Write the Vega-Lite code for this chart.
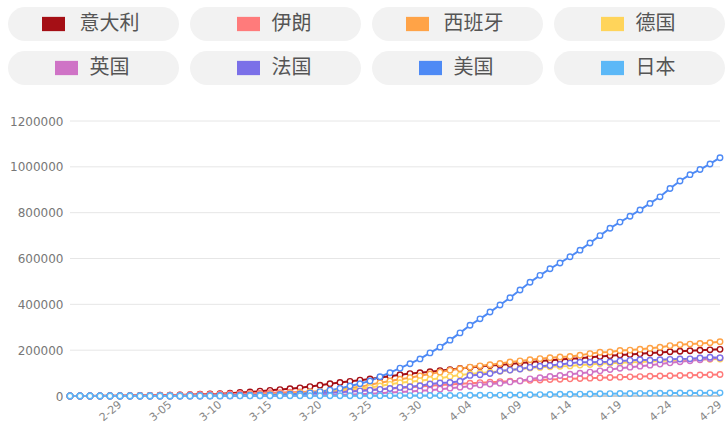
{
"$schema": "https://vega.github.io/schema/vega-lite/v6.json",
"padding": {"left": 8, "top": 7, "right": 2, "bottom": 0},
"spacing": 30,
"config": {"view": {"stroke": null}, "font": "DejaVu Sans", "background": "white", "header": {"labels": false, "labelFontSize": 0, "labelPadding": 0, "title": null}},
"datasets": {
"series": [{"name":"意大利"},{"name":"伊朗"},{"name":"西班牙"},{"name":"德国"},{"name":"英国"},{"name":"法国"},{"name":"美国"},{"name":"日本"}],
"grid": [{"g":0},{"g":200000},{"g":400000},{"g":600000},{"g":800000},{"g":1000000},{"g":1200000}],
"cases": [
{"c":"意大利","d":"2020-02-24","v":229},{"c":"意大利","d":"2020-02-25","v":322},{"c":"意大利","d":"2020-02-26","v":453},{"c":"意大利","d":"2020-02-27","v":655},{"c":"意大利","d":"2020-02-28","v":888},{"c":"意大利","d":"2020-02-29","v":1128},
{"c":"意大利","d":"2020-03-01","v":1694},{"c":"意大利","d":"2020-03-02","v":2036},{"c":"意大利","d":"2020-03-03","v":2502},{"c":"意大利","d":"2020-03-04","v":3089},{"c":"意大利","d":"2020-03-05","v":3858},{"c":"意大利","d":"2020-03-06","v":4636},{"c":"意大利","d":"2020-03-07","v":5883},{"c":"意大利","d":"2020-03-08","v":7375},{"c":"意大利","d":"2020-03-09","v":9172},{"c":"意大利","d":"2020-03-10","v":10149},{"c":"意大利","d":"2020-03-11","v":12462},{"c":"意大利","d":"2020-03-12","v":15113},{"c":"意大利","d":"2020-03-13","v":17660},{"c":"意大利","d":"2020-03-14","v":21157},{"c":"意大利","d":"2020-03-15","v":24747},{"c":"意大利","d":"2020-03-16","v":27980},{"c":"意大利","d":"2020-03-17","v":31506},{"c":"意大利","d":"2020-03-18","v":35713},{"c":"意大利","d":"2020-03-19","v":41035},{"c":"意大利","d":"2020-03-20","v":47021},{"c":"意大利","d":"2020-03-21","v":53578},{"c":"意大利","d":"2020-03-22","v":59138},{"c":"意大利","d":"2020-03-23","v":63927},{"c":"意大利","d":"2020-03-24","v":69176},{"c":"意大利","d":"2020-03-25","v":74386},{"c":"意大利","d":"2020-03-26","v":80589},{"c":"意大利","d":"2020-03-27","v":86498},{"c":"意大利","d":"2020-03-28","v":92472},{"c":"意大利","d":"2020-03-29","v":97689},{"c":"意大利","d":"2020-03-30","v":101739},{"c":"意大利","d":"2020-03-31","v":105792},
{"c":"意大利","d":"2020-04-01","v":110574},{"c":"意大利","d":"2020-04-02","v":115242},{"c":"意大利","d":"2020-04-03","v":119827},{"c":"意大利","d":"2020-04-04","v":124632},{"c":"意大利","d":"2020-04-05","v":128948},{"c":"意大利","d":"2020-04-06","v":132547},{"c":"意大利","d":"2020-04-07","v":135586},{"c":"意大利","d":"2020-04-08","v":139422},{"c":"意大利","d":"2020-04-09","v":143626},{"c":"意大利","d":"2020-04-10","v":147577},{"c":"意大利","d":"2020-04-11","v":152271},{"c":"意大利","d":"2020-04-12","v":156363},{"c":"意大利","d":"2020-04-13","v":159516},{"c":"意大利","d":"2020-04-14","v":162488},{"c":"意大利","d":"2020-04-15","v":165155},{"c":"意大利","d":"2020-04-16","v":168941},{"c":"意大利","d":"2020-04-17","v":172434},{"c":"意大利","d":"2020-04-18","v":175925},{"c":"意大利","d":"2020-04-19","v":178972},{"c":"意大利","d":"2020-04-20","v":181228},{"c":"意大利","d":"2020-04-21","v":183957},{"c":"意大利","d":"2020-04-22","v":187327},{"c":"意大利","d":"2020-04-23","v":189973},{"c":"意大利","d":"2020-04-24","v":192994},{"c":"意大利","d":"2020-04-25","v":195351},{"c":"意大利","d":"2020-04-26","v":197675},{"c":"意大利","d":"2020-04-27","v":199414},{"c":"意大利","d":"2020-04-28","v":201505},{"c":"意大利","d":"2020-04-29","v":203591},
{"c":"伊朗","d":"2020-02-24","v":61},{"c":"伊朗","d":"2020-02-25","v":95},{"c":"伊朗","d":"2020-02-26","v":139},{"c":"伊朗","d":"2020-02-27","v":245},{"c":"伊朗","d":"2020-02-28","v":388},{"c":"伊朗","d":"2020-02-29","v":593},
{"c":"伊朗","d":"2020-03-01","v":978},{"c":"伊朗","d":"2020-03-02","v":1501},{"c":"伊朗","d":"2020-03-03","v":2336},{"c":"伊朗","d":"2020-03-04","v":2922},{"c":"伊朗","d":"2020-03-05","v":3513},{"c":"伊朗","d":"2020-03-06","v":4747},{"c":"伊朗","d":"2020-03-07","v":5823},{"c":"伊朗","d":"2020-03-08","v":6566},{"c":"伊朗","d":"2020-03-09","v":7161},{"c":"伊朗","d":"2020-03-10","v":8042},{"c":"伊朗","d":"2020-03-11","v":9000},{"c":"伊朗","d":"2020-03-12","v":10075},{"c":"伊朗","d":"2020-03-13","v":11364},{"c":"伊朗","d":"2020-03-14","v":12729},{"c":"伊朗","d":"2020-03-15","v":13938},{"c":"伊朗","d":"2020-03-16","v":14991},{"c":"伊朗","d":"2020-03-17","v":16169},{"c":"伊朗","d":"2020-03-18","v":17361},{"c":"伊朗","d":"2020-03-19","v":18407},{"c":"伊朗","d":"2020-03-20","v":19644},{"c":"伊朗","d":"2020-03-21","v":20610},{"c":"伊朗","d":"2020-03-22","v":21638},{"c":"伊朗","d":"2020-03-23","v":23049},{"c":"伊朗","d":"2020-03-24","v":24811},{"c":"伊朗","d":"2020-03-25","v":27017},{"c":"伊朗","d":"2020-03-26","v":29406},{"c":"伊朗","d":"2020-03-27","v":32332},{"c":"伊朗","d":"2020-03-28","v":35408},{"c":"伊朗","d":"2020-03-29","v":38309},{"c":"伊朗","d":"2020-03-30","v":41495},{"c":"伊朗","d":"2020-03-31","v":44605},
{"c":"伊朗","d":"2020-04-01","v":47593},{"c":"伊朗","d":"2020-04-02","v":50468},{"c":"伊朗","d":"2020-04-03","v":53183},{"c":"伊朗","d":"2020-04-04","v":55743},{"c":"伊朗","d":"2020-04-05","v":58226},{"c":"伊朗","d":"2020-04-06","v":60500},{"c":"伊朗","d":"2020-04-07","v":62589},{"c":"伊朗","d":"2020-04-08","v":64586},{"c":"伊朗","d":"2020-04-09","v":66220},{"c":"伊朗","d":"2020-04-10","v":68192},{"c":"伊朗","d":"2020-04-11","v":70029},{"c":"伊朗","d":"2020-04-12","v":71686},{"c":"伊朗","d":"2020-04-13","v":73303},{"c":"伊朗","d":"2020-04-14","v":74877},{"c":"伊朗","d":"2020-04-15","v":76389},{"c":"伊朗","d":"2020-04-16","v":77995},{"c":"伊朗","d":"2020-04-17","v":79494},{"c":"伊朗","d":"2020-04-18","v":80868},{"c":"伊朗","d":"2020-04-19","v":82211},{"c":"伊朗","d":"2020-04-20","v":83505},{"c":"伊朗","d":"2020-04-21","v":84802},{"c":"伊朗","d":"2020-04-22","v":85996},{"c":"伊朗","d":"2020-04-23","v":87026},{"c":"伊朗","d":"2020-04-24","v":88194},{"c":"伊朗","d":"2020-04-25","v":89328},{"c":"伊朗","d":"2020-04-26","v":90481},{"c":"伊朗","d":"2020-04-27","v":91472},{"c":"伊朗","d":"2020-04-28","v":92584},{"c":"伊朗","d":"2020-04-29","v":93657},
{"c":"西班牙","d":"2020-02-24","v":2},{"c":"西班牙","d":"2020-02-25","v":6},{"c":"西班牙","d":"2020-02-26","v":13},{"c":"西班牙","d":"2020-02-27","v":15},{"c":"西班牙","d":"2020-02-28","v":32},{"c":"西班牙","d":"2020-02-29","v":45},
{"c":"西班牙","d":"2020-03-01","v":84},{"c":"西班牙","d":"2020-03-02","v":120},{"c":"西班牙","d":"2020-03-03","v":165},{"c":"西班牙","d":"2020-03-04","v":222},{"c":"西班牙","d":"2020-03-05","v":259},{"c":"西班牙","d":"2020-03-06","v":400},{"c":"西班牙","d":"2020-03-07","v":500},{"c":"西班牙","d":"2020-03-08","v":673},{"c":"西班牙","d":"2020-03-09","v":1073},{"c":"西班牙","d":"2020-03-10","v":1695},{"c":"西班牙","d":"2020-03-11","v":2277},{"c":"西班牙","d":"2020-03-12","v":3146},{"c":"西班牙","d":"2020-03-13","v":5232},{"c":"西班牙","d":"2020-03-14","v":6391},{"c":"西班牙","d":"2020-03-15","v":7798},{"c":"西班牙","d":"2020-03-16","v":9942},{"c":"西班牙","d":"2020-03-17","v":11748},{"c":"西班牙","d":"2020-03-18","v":13910},{"c":"西班牙","d":"2020-03-19","v":17963},{"c":"西班牙","d":"2020-03-20","v":20410},{"c":"西班牙","d":"2020-03-21","v":25374},{"c":"西班牙","d":"2020-03-22","v":28603},{"c":"西班牙","d":"2020-03-23","v":35136},{"c":"西班牙","d":"2020-03-24","v":39885},{"c":"西班牙","d":"2020-03-25","v":49515},{"c":"西班牙","d":"2020-03-26","v":57786},{"c":"西班牙","d":"2020-03-27","v":65719},{"c":"西班牙","d":"2020-03-28","v":73235},{"c":"西班牙","d":"2020-03-29","v":80110},{"c":"西班牙","d":"2020-03-30","v":87956},{"c":"西班牙","d":"2020-03-31","v":95923},
{"c":"西班牙","d":"2020-04-01","v":104118},{"c":"西班牙","d":"2020-04-02","v":112065},{"c":"西班牙","d":"2020-04-03","v":119199},{"c":"西班牙","d":"2020-04-04","v":126168},{"c":"西班牙","d":"2020-04-05","v":131646},{"c":"西班牙","d":"2020-04-06","v":136675},{"c":"西班牙","d":"2020-04-07","v":141942},{"c":"西班牙","d":"2020-04-08","v":148220},{"c":"西班牙","d":"2020-04-09","v":153222},{"c":"西班牙","d":"2020-04-10","v":158273},{"c":"西班牙","d":"2020-04-11","v":163027},{"c":"西班牙","d":"2020-04-12","v":166831},{"c":"西班牙","d":"2020-04-13","v":170099},{"c":"西班牙","d":"2020-04-14","v":172541},{"c":"西班牙","d":"2020-04-15","v":177644},{"c":"西班牙","d":"2020-04-16","v":184948},{"c":"西班牙","d":"2020-04-17","v":190839},{"c":"西班牙","d":"2020-04-18","v":191726},{"c":"西班牙","d":"2020-04-19","v":198674},{"c":"西班牙","d":"2020-04-20","v":200210},{"c":"西班牙","d":"2020-04-21","v":204178},{"c":"西班牙","d":"2020-04-22","v":208389},{"c":"西班牙","d":"2020-04-23","v":213024},{"c":"西班牙","d":"2020-04-24","v":219764},{"c":"西班牙","d":"2020-04-25","v":223759},{"c":"西班牙","d":"2020-04-26","v":226629},{"c":"西班牙","d":"2020-04-27","v":229422},{"c":"西班牙","d":"2020-04-28","v":232128},{"c":"西班牙","d":"2020-04-29","v":236899},
{"c":"德国","d":"2020-02-24","v":16},{"c":"德国","d":"2020-02-25","v":17},{"c":"德国","d":"2020-02-26","v":27},{"c":"德国","d":"2020-02-27","v":46},{"c":"德国","d":"2020-02-28","v":48},{"c":"德国","d":"2020-02-29","v":79},
{"c":"德国","d":"2020-03-01","v":130},{"c":"德国","d":"2020-03-02","v":159},{"c":"德国","d":"2020-03-03","v":196},{"c":"德国","d":"2020-03-04","v":262},{"c":"德国","d":"2020-03-05","v":482},{"c":"德国","d":"2020-03-06","v":670},{"c":"德国","d":"2020-03-07","v":799},{"c":"德国","d":"2020-03-08","v":1040},{"c":"德国","d":"2020-03-09","v":1176},{"c":"德国","d":"2020-03-10","v":1457},{"c":"德国","d":"2020-03-11","v":1908},{"c":"德国","d":"2020-03-12","v":2078},{"c":"德国","d":"2020-03-13","v":3675},{"c":"德国","d":"2020-03-14","v":4585},{"c":"德国","d":"2020-03-15","v":5795},{"c":"德国","d":"2020-03-16","v":7272},{"c":"德国","d":"2020-03-17","v":9257},{"c":"德国","d":"2020-03-18","v":12327},{"c":"德国","d":"2020-03-19","v":15320},{"c":"德国","d":"2020-03-20","v":19848},{"c":"德国","d":"2020-03-21","v":22213},{"c":"德国","d":"2020-03-22","v":24873},{"c":"德国","d":"2020-03-23","v":29056},{"c":"德国","d":"2020-03-24","v":32986},{"c":"德国","d":"2020-03-25","v":37323},{"c":"德国","d":"2020-03-26","v":43938},{"c":"德国","d":"2020-03-27","v":50871},{"c":"德国","d":"2020-03-28","v":57695},{"c":"德国","d":"2020-03-29","v":62095},{"c":"德国","d":"2020-03-30","v":66885},{"c":"德国","d":"2020-03-31","v":71808},
{"c":"德国","d":"2020-04-01","v":77872},{"c":"德国","d":"2020-04-02","v":84794},{"c":"德国","d":"2020-04-03","v":91159},{"c":"德国","d":"2020-04-04","v":96092},{"c":"德国","d":"2020-04-05","v":100123},{"c":"德国","d":"2020-04-06","v":103374},{"c":"德国","d":"2020-04-07","v":107663},{"c":"德国","d":"2020-04-08","v":113296},{"c":"德国","d":"2020-04-09","v":118181},{"c":"德国","d":"2020-04-10","v":122171},{"c":"德国","d":"2020-04-11","v":124908},{"c":"德国","d":"2020-04-12","v":127854},{"c":"德国","d":"2020-04-13","v":130072},{"c":"德国","d":"2020-04-14","v":131359},{"c":"德国","d":"2020-04-15","v":134753},{"c":"德国","d":"2020-04-16","v":137698},{"c":"德国","d":"2020-04-17","v":141397},{"c":"德国","d":"2020-04-18","v":143342},{"c":"德国","d":"2020-04-19","v":145184},{"c":"德国","d":"2020-04-20","v":147065},{"c":"德国","d":"2020-04-21","v":148291},{"c":"德国","d":"2020-04-22","v":150648},{"c":"德国","d":"2020-04-23","v":153129},{"c":"德国","d":"2020-04-24","v":154999},{"c":"德国","d":"2020-04-25","v":156513},{"c":"德国","d":"2020-04-26","v":157770},{"c":"德国","d":"2020-04-27","v":158758},{"c":"德国","d":"2020-04-28","v":159912},{"c":"德国","d":"2020-04-29","v":161539},
{"c":"英国","d":"2020-02-24","v":13},{"c":"英国","d":"2020-02-25","v":13},{"c":"英国","d":"2020-02-26","v":13},{"c":"英国","d":"2020-02-27","v":15},{"c":"英国","d":"2020-02-28","v":20},{"c":"英国","d":"2020-02-29","v":23},
{"c":"英国","d":"2020-03-01","v":36},{"c":"英国","d":"2020-03-02","v":40},{"c":"英国","d":"2020-03-03","v":51},{"c":"英国","d":"2020-03-04","v":86},{"c":"英国","d":"2020-03-05","v":116},{"c":"英国","d":"2020-03-06","v":164},{"c":"英国","d":"2020-03-07","v":207},{"c":"英国","d":"2020-03-08","v":274},{"c":"英国","d":"2020-03-09","v":322},{"c":"英国","d":"2020-03-10","v":384},{"c":"英国","d":"2020-03-11","v":459},{"c":"英国","d":"2020-03-12","v":590},{"c":"英国","d":"2020-03-13","v":798},{"c":"英国","d":"2020-03-14","v":1140},{"c":"英国","d":"2020-03-15","v":1143},{"c":"英国","d":"2020-03-16","v":1551},{"c":"英国","d":"2020-03-17","v":1960},{"c":"英国","d":"2020-03-18","v":2642},{"c":"英国","d":"2020-03-19","v":2716},{"c":"英国","d":"2020-03-20","v":4014},{"c":"英国","d":"2020-03-21","v":5067},{"c":"英国","d":"2020-03-22","v":5745},{"c":"英国","d":"2020-03-23","v":6726},{"c":"英国","d":"2020-03-24","v":8164},{"c":"英国","d":"2020-03-25","v":9640},{"c":"英国","d":"2020-03-26","v":11812},{"c":"英国","d":"2020-03-27","v":14745},{"c":"英国","d":"2020-03-28","v":17312},{"c":"英国","d":"2020-03-29","v":19780},{"c":"英国","d":"2020-03-30","v":22453},{"c":"英国","d":"2020-03-31","v":25481},
{"c":"英国","d":"2020-04-01","v":29865},{"c":"英国","d":"2020-04-02","v":34173},{"c":"英国","d":"2020-04-03","v":38689},{"c":"英国","d":"2020-04-04","v":42477},{"c":"英国","d":"2020-04-05","v":48436},{"c":"英国","d":"2020-04-06","v":52279},{"c":"英国","d":"2020-04-07","v":55949},{"c":"英国","d":"2020-04-08","v":61474},{"c":"英国","d":"2020-04-09","v":65872},{"c":"英国","d":"2020-04-10","v":74605},{"c":"英国","d":"2020-04-11","v":79874},{"c":"英国","d":"2020-04-12","v":85206},{"c":"英国","d":"2020-04-13","v":89570},{"c":"英国","d":"2020-04-14","v":94845},{"c":"英国","d":"2020-04-15","v":99483},{"c":"英国","d":"2020-04-16","v":104145},{"c":"英国","d":"2020-04-17","v":109769},{"c":"英国","d":"2020-04-18","v":115314},{"c":"英国","d":"2020-04-19","v":121172},{"c":"英国","d":"2020-04-20","v":125856},{"c":"英国","d":"2020-04-21","v":130172},{"c":"英国","d":"2020-04-22","v":134638},{"c":"英国","d":"2020-04-23","v":139246},{"c":"英国","d":"2020-04-24","v":144640},{"c":"英国","d":"2020-04-25","v":149569},{"c":"英国","d":"2020-04-26","v":154037},{"c":"英国","d":"2020-04-27","v":158348},{"c":"英国","d":"2020-04-28","v":162350},{"c":"英国","d":"2020-04-29","v":166441},
{"c":"法国","d":"2020-02-24","v":12},{"c":"法国","d":"2020-02-25","v":14},{"c":"法国","d":"2020-02-26","v":18},{"c":"法国","d":"2020-02-27","v":38},{"c":"法国","d":"2020-02-28","v":57},{"c":"法国","d":"2020-02-29","v":100},
{"c":"法国","d":"2020-03-01","v":130},{"c":"法国","d":"2020-03-02","v":191},{"c":"法国","d":"2020-03-03","v":204},{"c":"法国","d":"2020-03-04","v":288},{"c":"法国","d":"2020-03-05","v":380},{"c":"法国","d":"2020-03-06","v":656},{"c":"法国","d":"2020-03-07","v":957},{"c":"法国","d":"2020-03-08","v":1134},{"c":"法国","d":"2020-03-09","v":1217},{"c":"法国","d":"2020-03-10","v":1791},{"c":"法国","d":"2020-03-11","v":2289},{"c":"法国","d":"2020-03-12","v":3660},{"c":"法国","d":"2020-03-13","v":3672},{"c":"法国","d":"2020-03-14","v":4480},{"c":"法国","d":"2020-03-15","v":4513},{"c":"法国","d":"2020-03-16","v":6650},{"c":"法国","d":"2020-03-17","v":7652},{"c":"法国","d":"2020-03-18","v":9043},{"c":"法国","d":"2020-03-19","v":10871},{"c":"法国","d":"2020-03-20","v":12612},{"c":"法国","d":"2020-03-21","v":14282},{"c":"法国","d":"2020-03-22","v":16018},{"c":"法国","d":"2020-03-23","v":19856},{"c":"法国","d":"2020-03-24","v":22304},{"c":"法国","d":"2020-03-25","v":25233},{"c":"法国","d":"2020-03-26","v":29155},{"c":"法国","d":"2020-03-27","v":32964},{"c":"法国","d":"2020-03-28","v":37575},{"c":"法国","d":"2020-03-29","v":40174},{"c":"法国","d":"2020-03-30","v":44550},{"c":"法国","d":"2020-03-31","v":52128},
{"c":"法国","d":"2020-04-01","v":56989},{"c":"法国","d":"2020-04-02","v":59105},{"c":"法国","d":"2020-04-03","v":64338},{"c":"法国","d":"2020-04-04","v":89953},{"c":"法国","d":"2020-04-05","v":92839},{"c":"法国","d":"2020-04-06","v":98010},{"c":"法国","d":"2020-04-07","v":109069},{"c":"法国","d":"2020-04-08","v":112950},{"c":"法国","d":"2020-04-09","v":117749},{"c":"法国","d":"2020-04-10","v":124869},{"c":"法国","d":"2020-04-11","v":129654},{"c":"法国","d":"2020-04-12","v":132591},{"c":"法国","d":"2020-04-13","v":137875},{"c":"法国","d":"2020-04-14","v":143303},{"c":"法国","d":"2020-04-15","v":147091},{"c":"法国","d":"2020-04-16","v":147065},{"c":"法国","d":"2020-04-17","v":148084},{"c":"法国","d":"2020-04-18","v":148086},{"c":"法国","d":"2020-04-19","v":153011},{"c":"法国","d":"2020-04-20","v":155393},{"c":"法国","d":"2020-04-21","v":158168},{"c":"法国","d":"2020-04-22","v":155980},{"c":"法国","d":"2020-04-23","v":158303},{"c":"法国","d":"2020-04-24","v":159952},{"c":"法国","d":"2020-04-25","v":161644},{"c":"法国","d":"2020-04-26","v":162220},{"c":"法国","d":"2020-04-27","v":165963},{"c":"法国","d":"2020-04-28","v":169053},{"c":"法国","d":"2020-04-29","v":166543},
{"c":"美国","d":"2020-02-24","v":53},{"c":"美国","d":"2020-02-25","v":53},{"c":"美国","d":"2020-02-26","v":59},{"c":"美国","d":"2020-02-27","v":60},{"c":"美国","d":"2020-02-28","v":62},{"c":"美国","d":"2020-02-29","v":70},
{"c":"美国","d":"2020-03-01","v":76},{"c":"美国","d":"2020-03-02","v":101},{"c":"美国","d":"2020-03-03","v":122},{"c":"美国","d":"2020-03-04","v":153},{"c":"美国","d":"2020-03-05","v":221},{"c":"美国","d":"2020-03-06","v":278},{"c":"美国","d":"2020-03-07","v":417},{"c":"美国","d":"2020-03-08","v":537},{"c":"美国","d":"2020-03-09","v":605},{"c":"美国","d":"2020-03-10","v":959},{"c":"美国","d":"2020-03-11","v":1281},{"c":"美国","d":"2020-03-12","v":1663},{"c":"美国","d":"2020-03-13","v":2179},{"c":"美国","d":"2020-03-14","v":2726},{"c":"美国","d":"2020-03-15","v":3499},{"c":"美国","d":"2020-03-16","v":4632},{"c":"美国","d":"2020-03-17","v":6421},{"c":"美国","d":"2020-03-18","v":7786},{"c":"美国","d":"2020-03-19","v":13680},{"c":"美国","d":"2020-03-20","v":19101},{"c":"美国","d":"2020-03-21","v":25493},{"c":"美国","d":"2020-03-22","v":33276},{"c":"美国","d":"2020-03-23","v":43847},{"c":"美国","d":"2020-03-24","v":53740},{"c":"美国","d":"2020-03-25","v":65778},{"c":"美国","d":"2020-03-26","v":83836},{"c":"美国","d":"2020-03-27","v":101657},{"c":"美国","d":"2020-03-28","v":121478},{"c":"美国","d":"2020-03-29","v":140886},{"c":"美国","d":"2020-03-30","v":161807},{"c":"美国","d":"2020-03-31","v":188172},
{"c":"美国","d":"2020-04-01","v":213242},{"c":"美国","d":"2020-04-02","v":243622},{"c":"美国","d":"2020-04-03","v":275367},{"c":"美国","d":"2020-04-04","v":308650},{"c":"美国","d":"2020-04-05","v":336802},{"c":"美国","d":"2020-04-06","v":366317},{"c":"美国","d":"2020-04-07","v":397121},{"c":"美国","d":"2020-04-08","v":428654},{"c":"美国","d":"2020-04-09","v":462780},{"c":"美国","d":"2020-04-10","v":496535},{"c":"美国","d":"2020-04-11","v":526396},{"c":"美国","d":"2020-04-12","v":555313},{"c":"美国","d":"2020-04-13","v":580619},{"c":"美国","d":"2020-04-14","v":607670},{"c":"美国","d":"2020-04-15","v":636350},{"c":"美国","d":"2020-04-16","v":667592},{"c":"美国","d":"2020-04-17","v":699706},{"c":"美国","d":"2020-04-18","v":732197},{"c":"美国","d":"2020-04-19","v":758809},{"c":"美国","d":"2020-04-20","v":784326},{"c":"美国","d":"2020-04-21","v":811865},{"c":"美国","d":"2020-04-22","v":840351},{"c":"美国","d":"2020-04-23","v":869170},{"c":"美国","d":"2020-04-24","v":905358},{"c":"美国","d":"2020-04-25","v":938154},{"c":"美国","d":"2020-04-26","v":965785},{"c":"美国","d":"2020-04-27","v":988197},{"c":"美国","d":"2020-04-28","v":1012582},{"c":"美国","d":"2020-04-29","v":1039909},
{"c":"日本","d":"2020-02-24","v":144},{"c":"日本","d":"2020-02-25","v":144},{"c":"日本","d":"2020-02-26","v":164},{"c":"日本","d":"2020-02-27","v":186},{"c":"日本","d":"2020-02-28","v":210},{"c":"日本","d":"2020-02-29","v":230},
{"c":"日本","d":"2020-03-01","v":239},{"c":"日本","d":"2020-03-02","v":254},{"c":"日本","d":"2020-03-03","v":268},{"c":"日本","d":"2020-03-04","v":284},{"c":"日本","d":"2020-03-05","v":317},{"c":"日本","d":"2020-03-06","v":349},{"c":"日本","d":"2020-03-07","v":408},{"c":"日本","d":"2020-03-08","v":455},{"c":"日本","d":"2020-03-09","v":488},{"c":"日本","d":"2020-03-10","v":514},{"c":"日本","d":"2020-03-11","v":568},{"c":"日本","d":"2020-03-12","v":620},{"c":"日本","d":"2020-03-13","v":675},{"c":"日本","d":"2020-03-14","v":716},{"c":"日本","d":"2020-03-15","v":780},{"c":"日本","d":"2020-03-16","v":814},{"c":"日本","d":"2020-03-17","v":829},{"c":"日本","d":"2020-03-18","v":873},{"c":"日本","d":"2020-03-19","v":950},{"c":"日本","d":"2020-03-20","v":1007},{"c":"日本","d":"2020-03-21","v":1046},{"c":"日本","d":"2020-03-22","v":1089},{"c":"日本","d":"2020-03-23","v":1128},{"c":"日本","d":"2020-03-24","v":1193},{"c":"日本","d":"2020-03-25","v":1307},{"c":"日本","d":"2020-03-26","v":1387},{"c":"日本","d":"2020-03-27","v":1499},{"c":"日本","d":"2020-03-28","v":1693},{"c":"日本","d":"2020-03-29","v":1866},{"c":"日本","d":"2020-03-30","v":1866},{"c":"日本","d":"2020-03-31","v":1953},
{"c":"日本","d":"2020-04-01","v":2178},{"c":"日本","d":"2020-04-02","v":2495},{"c":"日本","d":"2020-04-03","v":2617},{"c":"日本","d":"2020-04-04","v":3139},{"c":"日本","d":"2020-04-05","v":3139},{"c":"日本","d":"2020-04-06","v":3654},{"c":"日本","d":"2020-04-07","v":3906},{"c":"日本","d":"2020-04-08","v":4257},{"c":"日本","d":"2020-04-09","v":4667},{"c":"日本","d":"2020-04-10","v":5530},{"c":"日本","d":"2020-04-11","v":6005},{"c":"日本","d":"2020-04-12","v":6748},{"c":"日本","d":"2020-04-13","v":7370},{"c":"日本","d":"2020-04-14","v":7645},{"c":"日本","d":"2020-04-15","v":8100},{"c":"日本","d":"2020-04-16","v":8626},{"c":"日本","d":"2020-04-17","v":9787},{"c":"日本","d":"2020-04-18","v":10296},{"c":"日本","d":"2020-04-19","v":10797},{"c":"日本","d":"2020-04-20","v":11135},{"c":"日本","d":"2020-04-21","v":11512},{"c":"日本","d":"2020-04-22","v":11950},{"c":"日本","d":"2020-04-23","v":12368},{"c":"日本","d":"2020-04-24","v":12829},{"c":"日本","d":"2020-04-25","v":13231},{"c":"日本","d":"2020-04-26","v":13441},{"c":"日本","d":"2020-04-27","v":13614},{"c":"日本","d":"2020-04-28","v":13736},{"c":"日本","d":"2020-04-29","v":13895}
]
},
"vconcat": [
{
"data": {"name": "series"},
"facet": {"field": "name", "type": "nominal", "sort": ["意大利","伊朗","西班牙","德国","英国","法国","美国","日本"], "header": {"labels": false, "labelExpr": "''", "labelFontSize": 0, "labelPadding": 0, "title": null}},
"columns": 4,
"spacing": {"row": 10, "column": 11},
"spec": {
"width": 171, "height": 34,
"layer": [
{"mark": {"type": "rect", "color": "#f2f2f2", "cornerRadius": 17},
 "encoding": {
  "x": {"datum": 0, "type": "quantitative", "scale": {"domain": [0, 1], "nice": false, "zero": false}, "axis": null},
  "x2": {"datum": 1},
  "y": {"datum": 0, "type": "quantitative", "scale": {"domain": [0, 1], "nice": false, "zero": false}, "axis": null},
  "y2": {"datum": 1}}},
{"transform": [{"filter": {"field": "name", "oneOf": ["意大利", "西班牙"]}}],
 "mark": {"type": "point", "shape": "M-1,-0.62H1V0.62H-1Z", "filled": true, "size": 529, "xOffset": -40, "opacity": 1},
 "encoding": {
  "x": {"datum": 0.5, "type": "quantitative"},
  "y": {"datum": 0.5, "type": "quantitative"},
  "color": {"field": "name", "type": "nominal", "legend": null, "scale": {"domain": ["意大利","伊朗","西班牙","德国","英国","法国","美国","日本"], "range": ["#a50f15","#ff7b7b","#ffa347","#ffd45a","#cf73c6","#7b70e8","#4e8af5","#5cb8f7"]}}}},
{"transform": [{"filter": {"field": "name", "oneOf": ["伊朗","德国","英国","法国","美国","日本"]}}],
 "mark": {"type": "point", "shape": "M-1,-0.62H1V0.62H-1Z", "filled": true, "size": 529, "xOffset": -27, "opacity": 1},
 "encoding": {
  "x": {"datum": 0.5, "type": "quantitative"},
  "y": {"datum": 0.5, "type": "quantitative"},
  "color": {"field": "name", "type": "nominal", "legend": null, "scale": {"domain": ["意大利","伊朗","西班牙","德国","英国","法国","美国","日本"], "range": ["#a50f15","#ff7b7b","#ffa347","#ffd45a","#cf73c6","#7b70e8","#4e8af5","#5cb8f7"]}}}},
{"mark": {"type": "text", "dx": 16, "fontSize": 20, "font": "Noto Sans CJK SC", "color": "#555555", "align": "center", "baseline": "middle"},
 "encoding": {
  "x": {"datum": 0.5, "type": "quantitative"},
  "y": {"datum": 0.5, "type": "quantitative"},
  "text": {"field": "name", "type": "nominal"}}}
]
}
},
{
"width": 717, "height": 275,
"layer": [
{"data": {"name": "grid"},
 "mark": {"type": "rule", "strokeWidth": 1},
 "encoding": {
  "y": {"field": "g", "type": "quantitative",
   "scale": {"domain": [0, 1200000], "nice": false},
   "axis": {"values": [0, 200000, 400000, 600000, 800000, 1000000, 1200000], "format": "d", "offset": -62, "labelPadding": 7, "labelFontSize": 12, "labelColor": "#777777", "ticks": false, "domain": false, "grid": false, "title": null}},
  "x": {"datum": {"year": 2020, "month": 2, "date": 24}, "type": "temporal"},
  "x2": {"datum": {"year": 2020, "month": 4, "date": 29}},
  "color": {"condition": {"test": "datum.g === 0", "value": "#9a9a9a"}, "value": "#e6e6e6"}}},
{"data": {"name": "cases", "format": {"parse": {"d": "date:'%Y-%m-%d'"}}},
 "mark": {"type": "line", "strokeWidth": 2, "point": {"filled": false, "fill": "white", "size": 30, "strokeWidth": 1.4, "opacity": 1}},
 "encoding": {
  "x": {"field": "d", "type": "temporal",
   "scale": {"domain": [{"year": 2020, "month": 2, "date": 17, "hours": 19, "minutes": 12}, {"year": 2020, "month": 4, "date": 29, "hours": 12}], "nice": false},
   "axis": {"values": [{"year":2020,"month":2,"date":29},{"year":2020,"month":3,"date":5},{"year":2020,"month":3,"date":10},{"year":2020,"month":3,"date":15},{"year":2020,"month":3,"date":20},{"year":2020,"month":3,"date":25},{"year":2020,"month":3,"date":30},{"year":2020,"month":4,"date":4},{"year":2020,"month":4,"date":9},{"year":2020,"month":4,"date":14},{"year":2020,"month":4,"date":19},{"year":2020,"month":4,"date":24},{"year":2020,"month":4,"date":29}],
    "format": "%-m-%d", "labelAngle": -40, "labelAlign": "right", "labelBaseline": "middle", "labelPadding": 7, "labelFontSize": 11, "labelColor": "#888888", "labelOverlap": false, "labelFlush": false, "ticks": false, "domain": false, "grid": false, "title": null}},
  "y": {"field": "v", "type": "quantitative",
   "axis": {"values": [0, 200000, 400000, 600000, 800000, 1000000, 1200000], "format": "d", "offset": -62, "labelPadding": 7, "labelFontSize": 12, "labelColor": "#777777", "ticks": false, "domain": false, "grid": false, "title": null}},
  "color": {"field": "c", "type": "nominal", "legend": null, "scale": {"domain": ["意大利","伊朗","西班牙","德国","英国","法国","美国","日本"], "range": ["#a50f15","#ff7b7b","#ffa347","#ffd45a","#cf73c6","#7b70e8","#4e8af5","#5cb8f7"]}}}}
]
}
]
}
